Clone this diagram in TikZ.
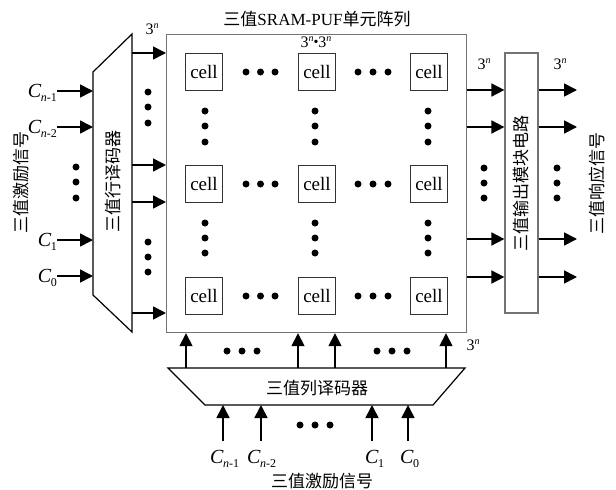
\documentclass[tikz,border=0pt]{standalone}
\usepackage{fontspec}
\setmainfont{Liberation Serif}
\newfontfamily\cjk{Noto Sans CJK SC}
\usetikzlibrary{arrows.meta}
\newcommand\Csub[1]{\textit{C}\kern-0.5pt\raisebox{-0.5ex}{\fontsize{12}{12}\selectfont #1}}
\newcommand\thn{3\raisebox{0.85ex}{\fontsize{10}{10}\selectfont\itshape n}}
\begin{document}
\begin{tikzpicture}[x=1pt,y=-1pt,
  ar/.style={line width=1.6pt,-{Triangle[length=13pt,width=13pt]}},
  dec/.style={draw,line width=1.2pt},
  cellbox/.style={draw=black!80,line width=0.9pt,minimum width=37pt,minimum height=37pt,inner sep=0pt,font=\fontsize{19}{19}\selectfont},
  zh/.style={font=\cjk\fontsize{17}{17}\selectfont,inner sep=0pt},
  lbl/.style={font=\fontsize{17}{17}\selectfont,inner sep=0pt},
  cin/.style={font=\fontsize{20}{20}\selectfont,inner sep=0pt}]
\useasboundingbox (0,0) rectangle (616,490);

% title and array
\node[lbl] (title) at (317,19) {{\cjk 三值}SRAM-PUF{\cjk 单元阵列}};
\node[draw=black!55,line width=1.2pt,minimum width=300pt,minimum height=298pt,inner sep=0pt,anchor=north west] (arr) at (166,34) {};
\node[lbl,font=\fontsize{16}{16}\selectfont] (dim) at (316,42) {\thn\raisebox{0.1ex}{\fontsize{14}{14}\selectfont\textbullet}\thn};

% cells
\foreach \cx/\cn in {204/a,317/b,429/c}{
  \node[cellbox] (r1\cn) at (\cx,71.5) {cell};
  \node[cellbox] (r2\cn) at (\cx,184) {cell};
  \node[cellbox] (r3\cn) at (\cx,296) {cell};
}
% horizontal dots in array
\foreach \yy in {72,184,296}{
  \foreach \xx in {246,260.5,275,358,373,388}{\fill (\xx,\yy) circle (3.5pt);}
}
% vertical dots in array
\foreach \xx in {205,315,428}{
  \foreach \yy in {111,126,142,223,238,253}{\fill (\xx,\yy) circle (3.5pt);}
}

% row decoder
\draw[dec] (93,72) coordinate (rdA) -- (132,34) coordinate (rdB) -- (132,332) coordinate (rdC) -- (93,295) coordinate (rdD) -- cycle;
\node[zh,rotate=90] (rdtxt) at (113,181) {三值行译码器};
\foreach \y in {53,165,202,313}{\draw[ar] (rdB |- 0,\y) -- (arr.west |- 0,\y);}
\foreach \yy in {92,107,123,242,257,272}{\fill (148,\yy) circle (3.5pt);}
\node[lbl,font=\fontsize{16}{16}\selectfont] (n1) at (152,29) {\thn};

% row inputs
\node[cin,anchor=base east] (ci1) at (57,97) {\Csub{\itshape n\upshape-1}};
\node[cin,anchor=base east] (ci2) at (57,133) {\Csub{\itshape n\upshape-2}};
\node[cin,anchor=base east] (ci3) at (57,246) {\Csub{1}};
\node[cin,anchor=base east] (ci4) at (57,282) {\Csub{0}};
\draw[ar] (ci1.east |- 0,91) -- (rdA |- 0,91);
\draw[ar] (ci2.east |- 0,127) -- (rdA |- 0,127);
\draw[ar] (ci3.east |- 0,240) -- (rdA |- 0,240);
\draw[ar] (ci4.east |- 0,276) -- (rdA |- 0,276);
\foreach \yy in {167,182,198}{\fill (76,\yy) circle (3.5pt);}
\node[zh,rotate=90] (lsig) at (21,182) {三值激励信号};

% output block
\node[draw=black!55,line width=1.2pt,minimum width=33pt,minimum height=260pt,inner sep=0pt] (out) at (521.5,183) {};
\node[zh,rotate=90] (outtxt) at (out.center) {三值输出模块电路};
\coordinate (oend) at (577,0);
\foreach \y in {90,127,239,277}{
  \draw[ar] (arr.east |- 0,\y) -- (out.west |- 0,\y);
  \draw[ar] (out.east |- 0,\y) -- (oend |- 0,\y);
}
\foreach \yy in {168,183,198}{\fill (484,\yy) circle (3.5pt); \fill (557,\yy) circle (3.5pt);}
\node[lbl,font=\fontsize{16}{16}\selectfont] (n2) at (484,64) {\thn};
\node[lbl,font=\fontsize{16}{16}\selectfont] (n3) at (560,64) {\thn};
\node[zh,rotate=90] (rsig) at (597,183) {三值响应信号};

% column decoder
\draw[dec] (168,368) coordinate (cdA) -- (465,368) coordinate (cdB) -- (433,405) coordinate (cdC) -- (205,405) coordinate (cdD) -- cycle;
\node[zh] (cdtxt) at (317,388) {三值列译码器};
\foreach \x in {186,298,335,446}{\draw[ar] (cdA -| \x,0) -- (arr.south -| \x,0);}
\foreach \xx in {227,242,257,377,392,407}{\fill (\xx,351) circle (3.5pt);}
\node[lbl,font=\fontsize{16}{16}\selectfont] (n4) at (473,345) {\thn};

% column inputs
\coordinate (in1) at (223,441);
\coordinate (in2) at (261,441);
\coordinate (in3) at (372,441);
\coordinate (in4) at (408,441);
\foreach \c in {in1,in2,in3,in4}{\draw[ar] (\c) -- (cdD -| \c);}
\foreach \xx in {300,315,330}{\fill (\xx,425) circle (3.5pt);}
\node[cin,anchor=base west] (cb1) at (210,463) {\Csub{\itshape n\upshape-1}};
\node[cin,anchor=base west] (cb2) at (247,463) {\Csub{\itshape n\upshape-2}};
\node[cin,anchor=base west] (cb3) at (365,463) {\Csub{1}};
\node[cin,anchor=base west] (cb4) at (400,463) {\Csub{0}};
\node[zh] (bsig) at (322,481) {三值激励信号};
\end{tikzpicture}
\end{document}
